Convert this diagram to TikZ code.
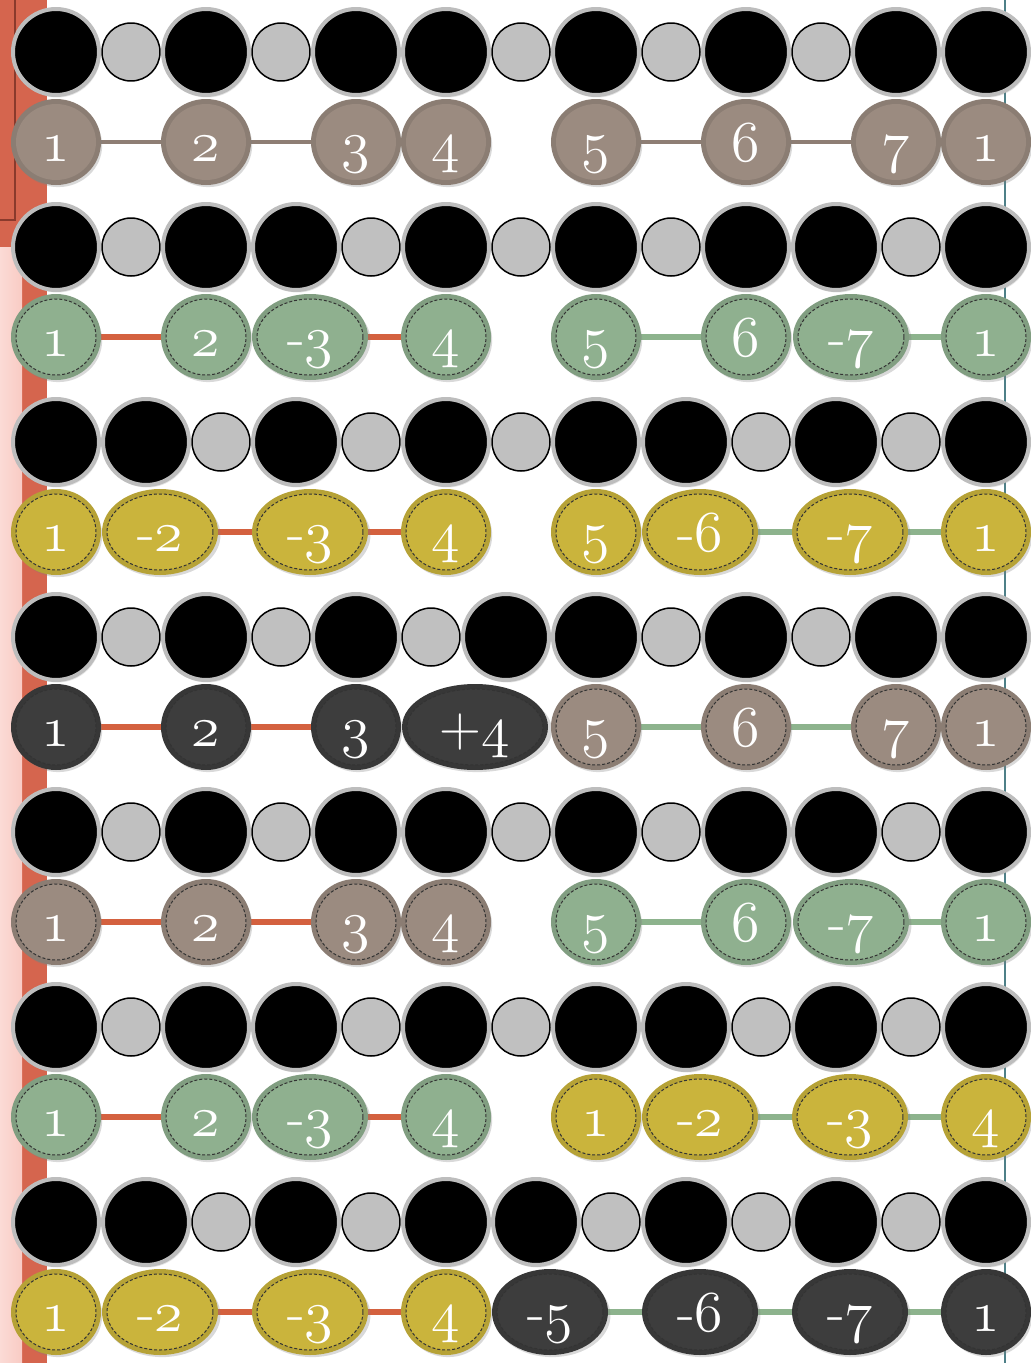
\RequirePackage{fix-cm}
\documentclass[tikz,border=0pt]{standalone}
\usetikzlibrary{shapes.geometric,backgrounds,shadows}

\definecolor{taupe}{HTML}{9B8B80}
\definecolor{sage}{HTML}{8FB08F}
\definecolor{mustard}{HTML}{CAB43C}
\definecolor{charcoal}{HTML}{3D3D3D}
\definecolor{linered}{HTML}{D4613F}
\definecolor{linegreen}{HTML}{8DB38D}
\definecolor{linetaupe}{HTML}{8E7E74}
\definecolor{beadgrey}{HTML}{C0C0C0}
\definecolor{ringgrey}{HTML}{BDBDBD}
\definecolor{barred}{HTML}{D5654E}
\definecolor{bardark}{HTML}{8A3A2C}
\definecolor{barpink}{HTML}{F9CBC4}
\definecolor{edgeteal}{HTML}{4E8088}

% old style figures from the math italic font
\newcommand{\osn}[1]{{\usefont{OML}{cmm}{m}{it}#1}}
\newcommand{\notefont}{\fontsize{33}{33}\selectfont}

\tikzset{
  bigbead/.style={circle, inner sep=0pt, minimum size=1.72cm, fill=black,
    draw=ringgrey, line width=0.08cm,
    drop shadow={opacity=0.2, shadow xshift=0.03cm, shadow yshift=-0.05cm}},
  smallbead/.style={circle, inner sep=0pt, minimum size=1.16cm, fill=beadgrey,
    draw=black, line width=0.03cm},
  note/.style={ellipse, inner sep=0pt, minimum width=1.6cm, minimum height=1.52cm,
    fill=#1, draw=black!80, line width=0.02cm, dash pattern=on 0.06cm off 0.04cm,
    drop shadow={opacity=0.3, shadow xshift=0.04cm, shadow yshift=-0.06cm, shadow scale=1.1},
    preaction={draw=#1!90!black, line width=0.2cm, solid},
    text=white, font=\notefont, text height=0.76cm, text depth=0cm},
  natnote/.style={},
  flatnote/.style={minimum width=2.12cm},
  sharpnote/.style={minimum width=2.72cm},
  nodash/.style={draw=none},
  redtie/.style={draw=linered, line width=0.13cm},
  greentie/.style={draw=linegreen, line width=0.13cm},
  taupetie/.style={draw=linetaupe, line width=0.08cm},
}

\begin{document}
\begin{tikzpicture}[x=0.02cm, y=-0.02cm]
  \useasboundingbox (0,0) rectangle (1031,1363);

  % bead rows: big beads on the scale degrees, small ones fill the whole steps
  \foreach \r/\yb/\bl/\sl in {
      1/52/{56,206,356,446,596,746,896,986}/{131,281,521,671,821},
      2/247/{56,206,296,446,596,746,836,986}/{131,371,521,671,911},
      3/442/{56,146,296,446,596,686,836,986}/{221,371,521,761,911},
      4/637/{56,206,356,506,596,746,896,986}/{131,281,431,671,821},
      5/832/{56,206,356,446,596,746,836,986}/{131,281,521,671,911},
      6/1027/{56,206,296,446,596,686,836,986}/{131,371,521,761,911},
      7/1222/{56,146,296,446,536,686,836,986}/{221,371,611,761,911}}{
    \foreach \x [count=\i] in \sl
      \node[smallbead] (s\r-\i) at (\x,\yb) {};
    \foreach \x [count=\i] in \bl
      \node[bigbead] (b\r-\i) at (\x,\yb) {};
  }

  % row 1: ionian
  \foreach \x/\lab/\kind [count=\i] in {56/{\osn{1}}/natnote, 206/{\osn{2}}/natnote,
      356/{\osn{3}}/natnote, 446/{\osn{4}}/natnote, 596/{\osn{5}}/natnote,
      746/{\osn{6}}/natnote, 896/{\osn{7}}/natnote, 986/{\osn{1}}/natnote}
    \node[note=taupe, nodash, \kind] (n1-\i) at (\x,142) {\lab};

  % row 2: dorian
  \foreach \x/\lab/\col/\kind [count=\i] in {56/{\osn{1}}/sage/natnote,
      206/{\osn{2}}/sage/natnote, 310/{-\osn{3}}/sage/flatnote,
      446/{\osn{4}}/sage/natnote, 596/{\osn{5}}/sage/natnote,
      746/{\osn{6}}/sage/natnote, 851/{-\osn{7}}/sage/flatnote,
      986/{\osn{1}}/sage/natnote}
    \node[note=\col, \kind] (n2-\i) at (\x,337) {\lab};

  % row 3: phrygian
  \foreach \x/\lab/\col/\kind [count=\i] in {56/{\osn{1}}/mustard/natnote,
      160/{-\osn{2}}/mustard/flatnote, 310/{-\osn{3}}/mustard/flatnote,
      446/{\osn{4}}/mustard/natnote, 596/{\osn{5}}/mustard/natnote,
      700/{-\osn{6}}/mustard/flatnote, 850/{-\osn{7}}/mustard/flatnote,
      986/{\osn{1}}/mustard/natnote}
    \node[note=\col, \kind] (n3-\i) at (\x,532) {\lab};

  % row 4: lydian
  \foreach \x/\lab/\col/\kind [count=\i] in {56/{\osn{1}}/charcoal/natnote,
      206/{\osn{2}}/charcoal/natnote, 356/{\osn{3}}/charcoal/natnote,
      475/{+\osn{4}}/charcoal/sharpnote, 596/{\osn{5}}/taupe/natnote,
      746/{\osn{6}}/taupe/natnote, 896/{\osn{7}}/taupe/natnote,
      986/{\osn{1}}/taupe/natnote}
    \node[note=\col, \kind] (n4-\i) at (\x,727) {\lab};

  % row 5: mixolydian
  \foreach \x/\lab/\col/\kind [count=\i] in {56/{\osn{1}}/taupe/natnote,
      206/{\osn{2}}/taupe/natnote, 356/{\osn{3}}/taupe/natnote,
      446/{\osn{4}}/taupe/natnote, 596/{\osn{5}}/sage/natnote,
      746/{\osn{6}}/sage/natnote, 851/{-\osn{7}}/sage/flatnote,
      986/{\osn{1}}/sage/natnote}
    \node[note=\col, \kind] (n5-\i) at (\x,922) {\lab};

  % row 6: aeolian
  \foreach \x/\lab/\col/\kind [count=\i] in {56/{\osn{1}}/sage/natnote,
      206/{\osn{2}}/sage/natnote, 310/{-\osn{3}}/sage/flatnote,
      446/{\osn{4}}/sage/natnote, 596/{\osn{1}}/mustard/natnote,
      700/{-\osn{2}}/mustard/flatnote, 850/{-\osn{3}}/mustard/flatnote,
      986/{\osn{4}}/mustard/natnote}
    \node[note=\col, \kind] (n6-\i) at (\x,1117) {\lab};

  % row 7: locrian
  \foreach \x/\lab/\col/\kind [count=\i] in {56/{\osn{1}}/mustard/natnote,
      160/{-\osn{2}}/mustard/flatnote, 310/{-\osn{3}}/mustard/flatnote,
      446/{\osn{4}}/mustard/natnote, 550/{-\osn{5}}/charcoal/flatnote,
      700/{-\osn{6}}/charcoal/flatnote, 850/{-\osn{7}}/charcoal/flatnote,
      986/{\osn{1}}/charcoal/natnote}
    \node[note=\col, \kind] (n7-\i) at (\x,1312) {\lab};

  \begin{pgfonlayer}{background}
    % slide edge on the left, rule on the right
    \fill[barred] (0,0) rectangle (47,1363);
    \shade[left color=barpink!70, right color=barpink] (0,247) rectangle (22,1363);
    \draw[bardark, line width=0.03cm] (15,0) -- (15,220) -- (0,220);
    \draw[edgeteal, line width=0.025cm] (1005,0) -- (1005,1363);
    % ties inside each tetrachord
    \foreach \r/\a/\b/\tie in {1/1/2/taupetie, 1/2/3/taupetie, 1/5/6/taupetie, 1/6/7/taupetie,
        2/1/2/redtie, 2/3/4/redtie, 2/5/6/greentie, 2/7/8/greentie,
        3/2/3/redtie, 3/3/4/redtie, 3/6/7/greentie, 3/7/8/greentie,
        4/1/2/redtie, 4/2/3/redtie, 4/5/6/greentie, 4/6/7/greentie,
        5/1/2/redtie, 5/2/3/redtie, 5/5/6/greentie, 5/7/8/greentie,
        6/1/2/redtie, 6/3/4/redtie, 6/6/7/greentie, 6/7/8/greentie,
        7/2/3/redtie, 7/3/4/redtie, 7/5/6/greentie, 7/6/7/greentie, 7/7/8/greentie}
      \draw[\tie] (n\r-\a.center) -- (n\r-\b.center);
  \end{pgfonlayer}
\end{tikzpicture}
\end{document}
